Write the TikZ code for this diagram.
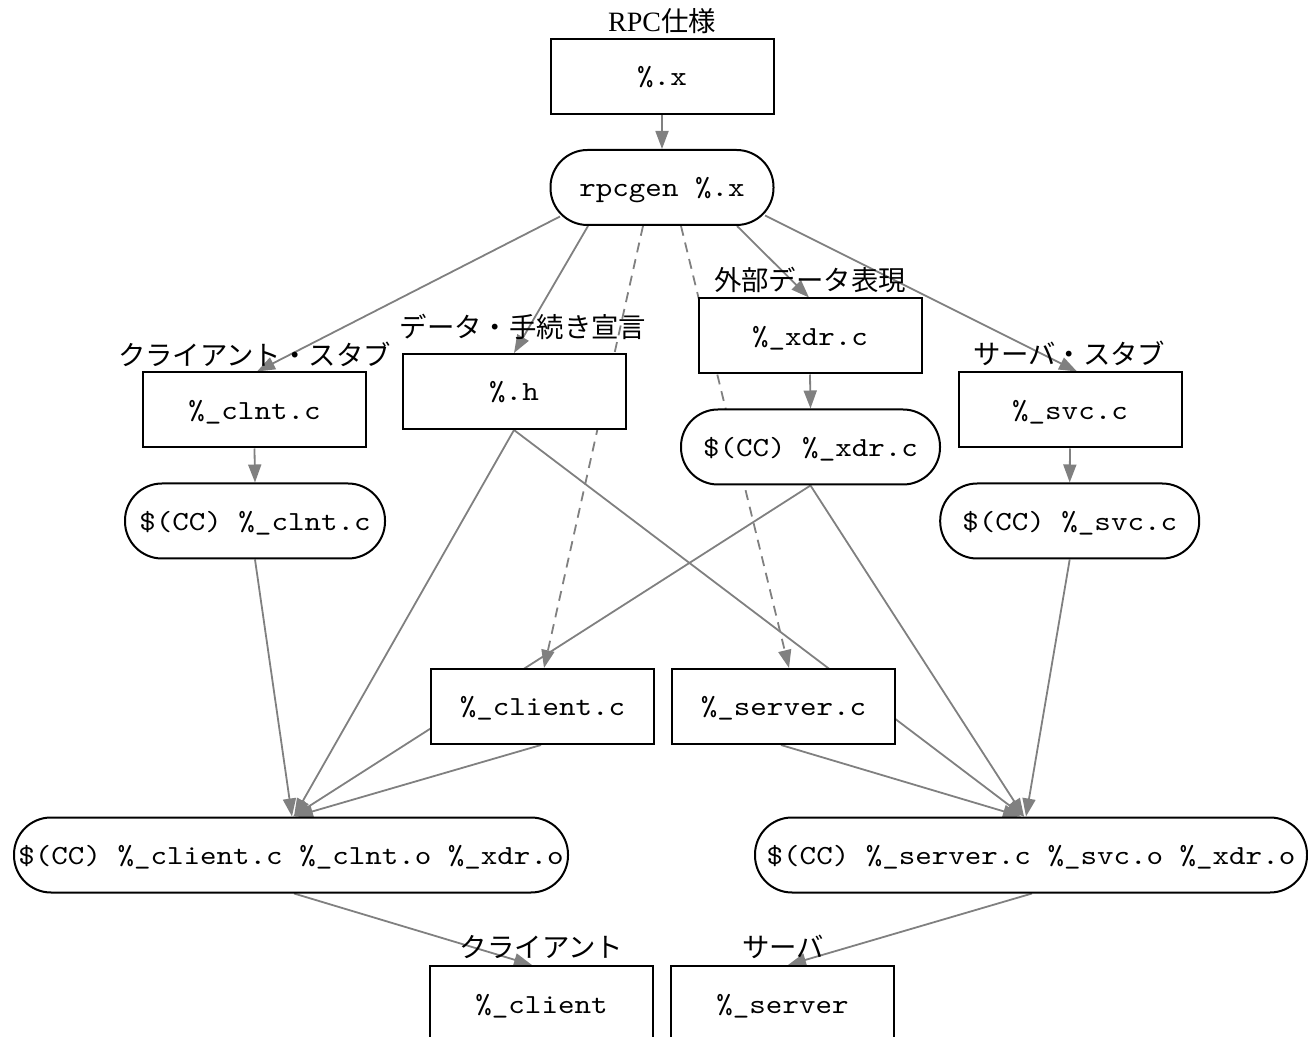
\documentclass[tikz,border=0pt]{standalone}
\usepackage{fontspec}
\setmainfont{Liberation Serif}
\setmonofont{lmmono10-regular.otf}[FakeStretch=1.14]
\newfontfamily\jpfont{Noto Sans CJK JP}
\usetikzlibrary{arrows.meta,calc}
\pgfdeclarelayer{bg}
\pgfsetlayers{bg,main}
\definecolor{edgegray}{HTML}{808080}
\tikzset{
  filebox/.style={draw=black, line width=1pt, fill=white, minimum width=111.5pt,
    minimum height=37.5pt, inner sep=0pt, font=\fontsize{13.8}{16}\selectfont\ttfamily,
    text height=12pt, text depth=2.5pt},
  cmdbox/.style={filebox, rounded corners=18.5pt},
  lab/.style={inner sep=0pt, font=\fontsize{13.7}{16}\selectfont\jpfont},
  edge/.style={draw=edgegray, line width=0.9pt, -{Triangle[length=9pt,width=6.5pt]}},
  dedge/.style={edge, dash pattern=on 5pt off 3.5pt}
}
\begin{document}
\begin{tikzpicture}[x=0.5pt,y=-0.5pt]
\useasboundingbox (0,0) rectangle (1308,1037);
% nodes
\node[filebox] (spec) at (662,76.5) {\%.x};
\node[cmdbox] (rpcgen) at (662,187.5) {rpcgen \%.x};
\node[filebox] (clnt) at (254.5,410) {\%\_clnt.c};
\node[filebox] (h) at (514,391.5) {\%.h};
\node[filebox] (xdr) at (810,336) {\%\_xdr.c};
\node[filebox] (svc) at (1070,410) {\%\_svc.c};
\node[cmdbox, minimum width=130pt] (ccclnt) at (255,521) {\$(CC) \%\_clnt.c};
\node[cmdbox, minimum width=129.5pt] (ccxdr) at (810.5,447) {\$(CC) \%\_xdr.c};
\node[cmdbox, minimum width=129.5pt] (ccsvc) at (1069.7,521) {\$(CC) \%\_svc.c};
\node[filebox] (clientc) at (542.5,706.5) {\%\_client.c};
\node[filebox] (serverc) at (783.5,706.5) {\%\_server.c};
\node[cmdbox, minimum width=277pt] (ccclient) at (291,855) {\$(CC) \%\_client.c \%\_clnt.o \%\_xdr.o};
\node[cmdbox, minimum width=276pt] (ccserver) at (1031,855) {\$(CC) \%\_server.c \%\_svc.o \%\_xdr.o};
\node[filebox] (client) at (541.5,1003.5) {\%\_client};
\node[filebox] (server) at (782.5,1003.5) {\%\_server};
% labels
\node[inner sep=0pt, font=\fontsize{14}{16}\selectfont\rmfamily] (lrpc) at (662,21) {RPC{\fontsize{13.7}{16}\selectfont\jpfont 仕様}};
\node[lab] (lh) at (523,327) {データ・手続き宣言};
\node[lab] (lclnt) at (254.5,354) {クライアント・スタブ};
\node[lab] (lxdr) at (810,280) {外部データ表現};
\node[lab] (lsvc) at (1069.5,353) {サーバ・スタブ};
\node[lab] (lclient) at (541.5,947) {クライアント};
\node[lab] (lserver) at (783,947) {サーバ};
% edges
\begin{pgfonlayer}{bg}
\draw[edge] (spec.south) -- (rpcgen.north);
\draw[edge] ($(rpcgen.center)+(-102,29)$) -- ($(clnt.north)+(2.5,0)$);
\draw[edge] ($(rpcgen.south)+(-74,0)$) -- (h.north);
\draw[dedge] ($(rpcgen.south)+(-19,0)$) -- ($(clientc.north)+(1.5,0)$);
\draw[dedge] ($(rpcgen.south)+(19,0)$) -- ($(serverc.north)+(5.5,0)$);
\draw[edge] ($(rpcgen.south)+(75,0)$) -- ($(xdr.north)+(-1,0)$);
\draw[edge] ($(rpcgen.center)+(103,28)$) -- ($(svc.north)+(7,0)$);
\draw[edge] (xdr.south) -- (ccxdr.north);
\draw[edge] (clnt.south) -- (ccclnt.north);
\draw[edge] (svc.south) -- (ccsvc.north);
\draw[edge] (ccclnt.south) -- ($(ccclient.north)+(1,0)$);
\draw[edge] (h.south) -- ($(ccclient.north)+(3,0)$);
\draw[edge] (h.south) -- ($(ccserver.north)+(-7,0)$);
\draw[edge] (ccxdr.south) -- ($(ccclient.north)+(2,0)$);
\draw[edge] (ccxdr.south) -- ($(ccserver.north)+(-7,0)$);
\draw[edge] ($(clientc.south)+(-1.5,0)$) -- ($(ccclient.north)+(4,0)$);
\draw[edge] ($(serverc.south)+(-2.5,0)$) -- ($(ccserver.north)+(-10,0)$);
\draw[edge] (ccsvc.south) -- ($(ccserver.north)+(-5,0)$);
\draw[edge] ($(ccclient.south)+(3,0)$) -- ($(client.north)+(-9.5,0)$);
\draw[edge] ($(ccserver.south)+(1,0)$) -- ($(server.north)+(5.5,0)$);
\end{pgfonlayer}
\end{tikzpicture}
\end{document}
